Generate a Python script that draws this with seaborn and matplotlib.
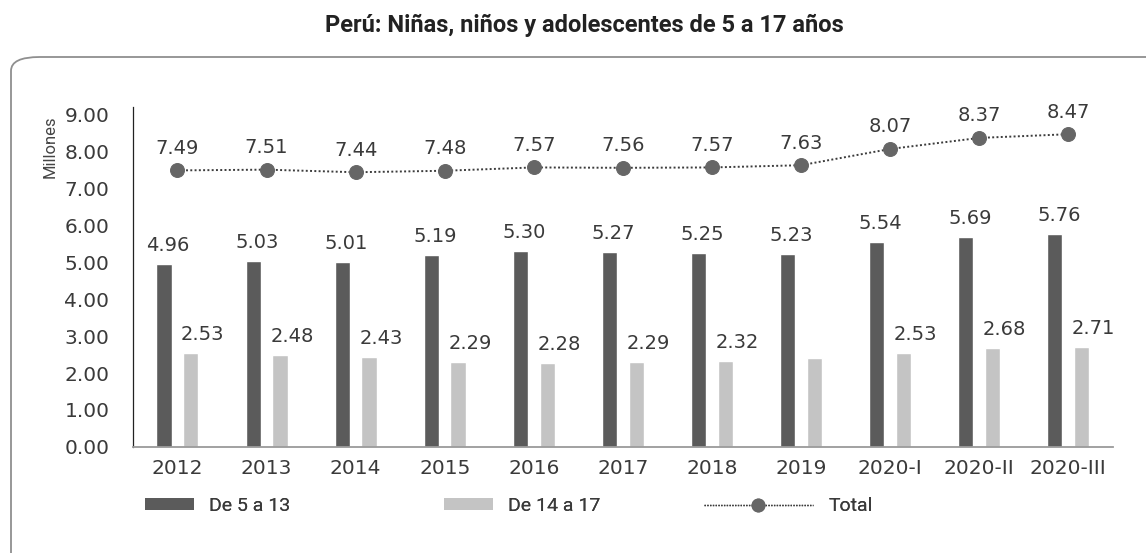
import pandas as pd
import matplotlib.pyplot as plt
import seaborn as sns
from matplotlib.patches import FancyBboxPatch, Patch
from matplotlib.lines import Line2D

# datos (millones)
periodos = ['2012', '2013', '2014', '2015', '2016', '2017', '2018', '2019',
            '2020-I', '2020-II', '2020-III']
de_5_a_13 = [4.96, 5.03, 5.01, 5.19, 5.30, 5.27, 5.25, 5.23, 5.54, 5.69, 5.76]
de_14_a_17 = [2.53, 2.48, 2.43, 2.29, 2.28, 2.29, 2.32, 2.40, 2.53, 2.68, 2.71]
total = [7.49, 7.51, 7.44, 7.48, 7.57, 7.56, 7.57, 7.63, 8.07, 8.37, 8.47]
sin_etiqueta = ['2019']  # la barra 14-17 de 2019 no lleva valor

sns.set_theme(style='white')
plt.rcParams['font.family'] = ['DejaVu Sans']

df = pd.DataFrame({'periodo': periodos * 2,
                   'valor': de_5_a_13 + de_14_a_17,
                   'grupo': ['De 5 a 13'] * len(periodos) + ['De 14 a 17'] * len(periodos)})

oscuro = '#5b5b5b'
claro = '#c4c4c4'
gris_texto = '#3a3a3a'

fig = plt.figure(figsize=(11.46, 5.53), dpi=100)
ax = fig.add_axes([0.116, 0.192, 0.855, 0.614])

# marco redondeado
marco = FancyBboxPatch((11 / 1146, -0.1), 1.2, 1 - 57 / 553 + 0.1,
                       boxstyle='round,pad=0,rounding_size=0.025',
                       transform=fig.transFigure, facecolor='none',
                       edgecolor='#8f8f8f', linewidth=1.3, zorder=0)
fig.patches.append(marco)

sns.barplot(data=df, x='periodo', y='valor', hue='grupo', ax=ax,
            palette=[oscuro, claro], width=0.6, gap=0.43, legend=False)

x = list(range(len(periodos)))
sns.lineplot(x=x, y=total, ax=ax, color='#3c3c3c', linestyle=(0, (1, 1.2)),
             linewidth=1.4, marker='o', markersize=10, markerfacecolor='#666666',
             markeredgecolor='#666666')

# etiquetas de valores
for barra, v in zip(ax.containers[0], de_5_a_13):
    ax.text(barra.get_x() + barra.get_width() / 2 + 0.045, v + 0.5, f'{v:.2f}',
            ha='center', va='center', fontsize=14, color=gris_texto)
for barra, v, p in zip(ax.containers[1], de_14_a_17, periodos):
    if p in sin_etiqueta:
        continue
    ax.text(barra.get_x() + barra.get_width() / 2 + 0.135, v + 0.5, f'{v:.2f}',
            ha='center', va='center', fontsize=14, color=gris_texto)
for xi, v in zip(x, total):
    ax.text(xi, v + 0.6, f'{v:.2f}', ha='center', va='center', fontsize=14, color=gris_texto)

ax.set_xlim(-0.5, 10.5)
ax.set_ylim(0, 9.2)
ax.set_yticks([i for i in range(10)])
ax.set_yticklabels([f'{i:.2f}' for i in range(10)])
ax.tick_params(axis='both', length=0, labelsize=14.5, labelcolor=gris_texto)
ax.tick_params(axis='y', pad=17)
ax.tick_params(axis='x', pad=9)
ax.set_xlabel('')
ax.set_ylabel('Millones', fontsize=12, color='#444444', family='Roboto')
ax.yaxis.set_label_coords(-0.077, 0.885)

for lado in ['top', 'right']:
    ax.spines[lado].set_visible(False)
ax.spines['left'].set_color('#222222')
ax.spines['left'].set_linewidth(0.9)
ax.spines['bottom'].set_color('#9a9a9a')
ax.spines['bottom'].set_linewidth(1.3)

fig.text(584 / 1146, 1 - 25 / 553, 'Perú: Niñas, niños y adolescentes de 5 a 17 años',
         ha='center', va='center', fontsize=17, fontweight='bold', color='#222222',
         family='Roboto')

# leyenda: tres entradas colocadas por separado
ley_y = 1 - 506 / 553
estilo = dict(loc='center left', frameon=False, borderpad=0, borderaxespad=0,
              prop={'family': 'Roboto', 'size': 14}, labelcolor=gris_texto,
              handletextpad=0.8, handleheight=0.55)
entradas = [
    (Patch(facecolor=oscuro, edgecolor='none'), 'De 5 a 13', 145, 2.5),
    (Patch(facecolor=claro, edgecolor='none'), 'De 14 a 17', 444, 2.5),
    (Line2D([0], [0], color='#3c3c3c', linestyle=(0, (1, 1)), linewidth=1,
            marker='o', markersize=9, markerfacecolor='#666666', markeredgecolor='#666666'),
     'Total', 704, 5.6),
]
for manija, texto, px, largo in entradas:
    ley = fig.legend([manija], [texto], bbox_to_anchor=(px / 1146, ley_y),
                     handlelength=largo, **estilo)
    fig.add_artist(ley)

plt.savefig('out.png', dpi=100)
